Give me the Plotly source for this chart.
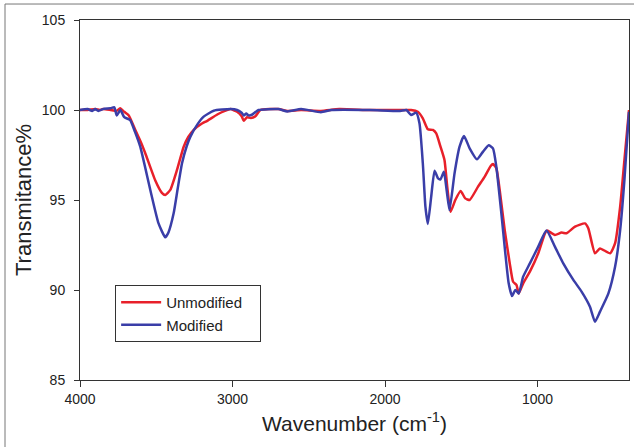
import plotly.graph_objects as go

# Unmodified (red)
wn_unmod = [4000, 3950, 3900, 3870, 3850, 3800, 3760, 3737, 3710, 3680, 3638, 3600, 3572, 3507,
            3463, 3441, 3408, 3364, 3320, 3290, 3254, 3200, 3166, 3100, 3050, 3013, 2970, 2940,
            2926, 2905, 2880, 2850, 2816, 2700, 2640, 2550, 2420, 2300, 2100, 1900, 1829, 1785,
            1752, 1719, 1686, 1664, 1636, 1610, 1592, 1570, 1539, 1504, 1474, 1445, 1390, 1346,
            1307, 1292, 1270, 1248, 1215, 1182, 1160, 1138, 1123, 1094, 1050, 995, 951, 937,
            886, 842, 809, 754, 689, 667, 623, 590, 524, 491, 458, 430, 400]
t_unmod = [100.0, 100.0, 100.05, 100.0, 100.05, 100.0, 99.95, 100.1, 99.9, 99.7, 98.9, 98.2, 97.6, 96.1,
           95.4, 95.28, 95.56, 96.67, 97.96, 98.5, 98.9, 99.25, 99.4, 99.75, 99.95, 100.05, 99.9, 99.65,
           99.4, 99.6, 99.55, 99.65, 100.0, 100.05, 99.95, 100.0, 99.95, 100.05, 100.0, 100.0, 100.0, 99.9,
           99.54, 98.93, 98.89, 98.7, 97.96, 97.22, 95.74, 94.35, 95.0, 95.5, 95.09, 95.0, 95.74, 96.3,
           96.89, 97.0, 96.76, 95.56, 93.33, 91.48, 90.46, 90.28, 89.81, 90.37, 91.02, 92.04, 93.15, 93.3,
           93.06, 93.19, 93.15, 93.52, 93.7, 93.43, 92.04, 92.31, 92.04, 92.6, 94.63, 97.22, 100.0]

# Modified (blue)
wn_mod = [4000, 3950, 3920, 3900, 3880, 3850, 3800, 3775, 3759, 3735, 3710, 3671, 3640, 3605,
          3539, 3485, 3441, 3420, 3386, 3360, 3331, 3300, 3276, 3230, 3189, 3123, 3013, 2970,
          2940, 2926, 2910, 2895, 2870, 2830, 2700, 2640, 2550, 2420, 2350, 2100, 1900, 1860,
          1829, 1796, 1774, 1752, 1735, 1719, 1697, 1675, 1652, 1636, 1614, 1595, 1577, 1544,
          1511, 1482, 1445, 1397, 1357, 1320, 1292, 1270, 1237, 1211, 1189, 1167, 1145, 1123,
          1094, 1050, 995, 941, 886, 831, 765, 711, 656, 623, 590, 535, 491, 458, 430, 400]
t_mod = [100.0, 100.05, 99.95, 100.05, 99.95, 100.05, 100.1, 100.15, 99.7, 100.0, 99.6, 99.44, 98.8, 97.96,
         95.56, 93.7, 92.93, 93.2, 94.26, 95.6, 97.04, 98.0, 98.52, 99.2, 99.63, 99.96, 100.05, 100.0,
         99.85, 99.7, 99.8, 99.7, 99.75, 100.0, 100.05, 99.92, 100.05, 99.88, 100.0, 100.0, 99.95, 100.0,
         99.72, 99.85, 99.26, 97.04, 94.63, 93.67, 95.19, 96.63, 96.2, 96.15, 96.57, 95.5, 94.44, 96.48,
         97.96, 98.56, 97.87, 97.26, 97.69, 98.04, 97.87, 96.85, 94.26, 92.04, 90.37, 89.67, 90.0, 89.81,
         90.74, 91.48, 92.41, 93.3, 92.41, 91.48, 90.56, 89.91, 89.07, 88.24, 88.8, 89.81, 91.3, 93.33, 96.11, 99.9]

x_ticks = [4000, 3000, 2000, 1000]
y_ticks = [85, 90, 95, 100, 105]

FONT = "Liberation Sans, Arial, sans-serif"

fig = go.Figure()
fig.add_trace(go.Scatter(x=wn_unmod, y=t_unmod, mode="lines", name="Unmodified\u00a0\u00a0\u00a0",
                         line=dict(color="#e8202a", width=2.5, shape="spline", smoothing=0.5)))
fig.add_trace(go.Scatter(x=wn_mod, y=t_mod, mode="lines", name="Modified",
                         line=dict(color="#3a3ea8", width=2.5, shape="spline", smoothing=0.5)))

fig.update_layout(
    width=634, height=447,
    margin=dict(l=80, r=5, t=20, b=67, autoexpand=False),
    paper_bgcolor="white", plot_bgcolor="white",
    font=dict(family=FONT, color="#222"),
    showlegend=True,
    legend=dict(x=0.064, y=0.264, xanchor="left", yanchor="top",
                bordercolor="#333", borderwidth=1, bgcolor="white",
                font=dict(size=15, family=FONT, color="#222"),
                tracegroupgap=0, itemwidth=40),
    xaxis=dict(range=[4000, 400], tickvals=x_ticks, ticks="outside", ticklen=6,
               tickcolor="#333", showline=True, linecolor="#333", linewidth=1, mirror=True,
               showgrid=False, zeroline=False, tickfont=dict(size=14), automargin=False,
               title=dict(text="Wavenumber (cm<sup>-1</sup>)", font=dict(size=21), standoff=10)),
    yaxis=dict(range=[85, 105], tickvals=y_ticks, ticks="outside", ticklen=5,
               tickcolor="#333", showline=True, linecolor="#333", linewidth=1, mirror=True,
               showgrid=False, zeroline=False, tickfont=dict(size=14), automargin=False,
               ticklabelstandoff=6,
               title=dict(text="Transmitance%", font=dict(size=22), standoff=4)),
    shapes=[
        dict(type="line", xref="paper", yref="paper", x0=-0.1366, x1=-0.1366, y0=1.0444, y1=-0.2,
             line=dict(color="#777", width=1)),
        dict(type="line", xref="paper", yref="paper", x0=-0.1366, x1=1.01, y0=1.0444, y1=1.0444,
             line=dict(color="#777", width=1)),
    ],
)

fig.write_html("out.html", config={"displayModeBar": False},
               post_script="document.body.style.margin='0px';document.body.style.overflow='hidden';")
